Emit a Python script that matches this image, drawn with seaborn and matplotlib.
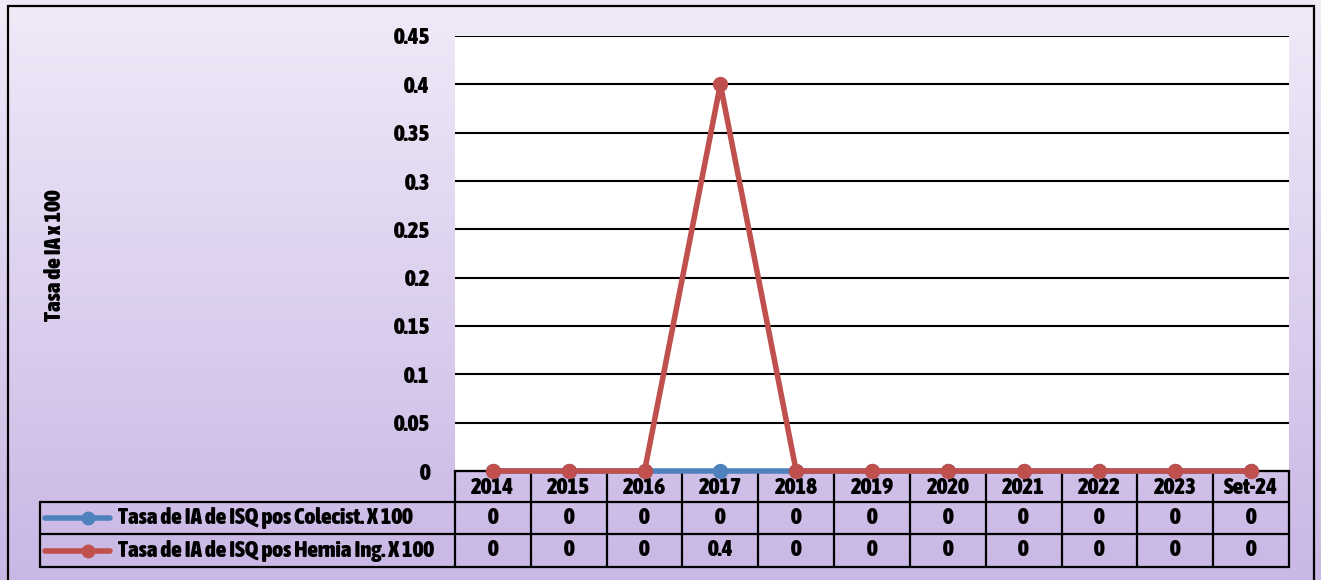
import numpy as np
import pandas as pd
import matplotlib
matplotlib.use("Agg")
import matplotlib.pyplot as plt
import matplotlib.transforms as mtransforms
from matplotlib import font_manager
from matplotlib.colors import LinearSegmentedColormap
import seaborn as sns

# Data
years = ["2014", "2015", "2016", "2017", "2018", "2019", "2020", "2021", "2022", "2023", "Set-24"]
colecist = [0, 0, 0, 0, 0, 0, 0, 0, 0, 0, 0]
hernia = [0, 0, 0, 0.4, 0, 0, 0, 0, 0, 0, 0]
series_names = ["Tasa de IA de ISQ pos Colecist. X 100", "Tasa de IA de ISQ pos Hernia Ing. X 100"]
y_ticks = [0, 0.05, 0.1, 0.15, 0.2, 0.25, 0.3, 0.35, 0.4, 0.45]
y_label = "Tasa de IA x 100"

sns.set_theme(style="white")


def is_bold(w):
    if isinstance(w, (int, float)):
        return w >= 600
    return str(w).lower() in ("bold", "heavy", "black", "semibold", "demibold", "extra bold")


# prefer a narrow bold sans if one is installed; keep the file path to use directly
narrow_path = None
for f in sorted(font_manager.fontManager.ttflist, key=lambda f: f.name):
    cond = ("Narrow" in f.name or "Condensed" in f.name
            or str(f.stretch).lower() in ("condensed", "semi-condensed")
            or (isinstance(f.stretch, int) and f.stretch < 500))
    if cond and is_bold(f.weight) and "italic" not in str(f.style).lower() and "Mono" not in f.name \
            and "Serif" not in f.name:
        narrow_path = f.fname
        break

plt.rcParams["font.family"] = ["Liberation Sans", "DejaVu Sans"]
plt.rcParams["text.color"] = "black"
plt.rcParams["ytick.color"] = "black"
plt.rcParams["xtick.color"] = "black"

if narrow_path:
    base_font = font_manager.FontProperties(fname=narrow_path)
else:
    base_font = font_manager.FontProperties(family=["Liberation Sans", "DejaVu Sans"], weight="bold")

W, H = 1321, 580
fig = plt.figure(figsize=(W / 100, H / 100), dpi=100)
renderer = fig.canvas.get_renderer()

# size text so the longest row header fills its cell
probe = fig.text(0, 0, series_names[1], fontproperties=base_font.copy())
probe.set_fontsize(12)
wpx = probe.get_window_extent(renderer).width
probe.remove()
fs = 12 * 329.0 / wpx
fs = min(fs, 16.5)


def fp(size):
    p = base_font.copy()
    p.set_size(size)
    return p


# gradient background
bg = fig.add_axes([0, 0, 1, 1], zorder=-10)
grad = np.linspace(0, 1, 256).reshape(-1, 1)
cmap = LinearSegmentedColormap.from_list("lav", ["#f0eaf8", "#c9b7e5"])
bg.imshow(grad, aspect="auto", cmap=cmap, extent=[0, 1, 0, 1], origin="upper")
bg.set_xlim(0, 1)
bg.set_ylim(0, 1)
bg.axis("off")
# outer frame
bg.add_patch(plt.Rectangle((8 / W, -0.02), (1314 - 8) / W, (H - 6) / H + 0.02,
                           fill=False, edgecolor="black", linewidth=1.6,
                           transform=bg.transAxes, clip_on=False))

px_l, px_r, px_t, px_b = 455, 1289, 36, 471
ax = fig.add_axes([px_l / W, (H - px_b) / H, (px_r - px_l) / W, (px_b - px_t) / H])
ax.set_facecolor("white")

x = np.arange(len(years))
df = pd.DataFrame({"x": np.concatenate([x, x]),
                   "y": colecist + hernia,
                   "serie": [series_names[0]] * len(x) + [series_names[1]] * len(x)})
palette = {series_names[0]: "#4f81bd", series_names[1]: "#c0504d"}
sns.lineplot(data=df, x="x", y="y", hue="serie", palette=palette, marker="o",
             markersize=11, markeredgewidth=0, linewidth=4, legend=False, ax=ax,
             clip_on=False, zorder=5)

ax.set_xlim(-0.5, len(years) - 0.5)
ax.set_ylim(0, 0.45)
ax.set_yticks(y_ticks)
ax.set_yticklabels([f"{v:g}" for v in y_ticks], fontproperties=fp(fs), color="black")
ax.tick_params(axis="y", length=0, pad=18)
ax.set_xticks([])
ax.set_xlabel("")
ax.set_ylabel("")
for v in y_ticks[1:]:
    ax.axhline(v, color="black", linewidth=1.5, zorder=1)
for s in ["top", "right", "left"]:
    ax.spines[s].set_visible(False)
ax.spines["bottom"].set_color("black")
ax.spines["bottom"].set_linewidth(1.5)

fig.text(55 / W, 1 - 255 / H, y_label, rotation=90, ha="center", va="center",
         fontproperties=fp(fs), color="black")

# data table under the axis
plot_h = px_b - px_t


def yfrac(py):
    return (px_b - py) / plot_h


row_edges = [471, 502, 534, 567]
trans = mtransforms.blended_transform_factory(ax.transData, ax.transAxes)
unit = (px_r - px_l) / len(years)
left_data = -0.5 + (40 - px_l) / unit
lw = 1.6
kw = dict(transform=trans, clip_on=False, color="black", linewidth=lw)

# horizontal lines
ax.plot([-0.5, len(years) - 0.5], [yfrac(row_edges[0])] * 2, **kw)
for r in row_edges[1:]:
    ax.plot([left_data, len(years) - 0.5], [yfrac(r)] * 2, **kw)
# vertical lines
for i in range(len(years) + 1):
    ax.plot([i - 0.5, i - 0.5], [yfrac(row_edges[0]), yfrac(row_edges[3])], **kw)
ax.plot([left_data, left_data], [yfrac(row_edges[1]), yfrac(row_edges[3])], **kw)

txt = dict(transform=trans, ha="center", va="center", fontproperties=fp(fs),
           color="black", clip_on=False)
hy = yfrac((row_edges[0] + row_edges[1]) / 2 + 2)
for i, yr in enumerate(years):
    ax.text(i, hy, yr, **txt)
for r, vals in enumerate([colecist, hernia]):
    cy = yfrac((row_edges[r + 1] + row_edges[r + 2]) / 2)
    for i, v in enumerate(vals):
        ax.text(i, cy, f"{v:g}", **txt)
    # legend key inside the row header cell
    xs = [left_data + (45 - 40) / unit, left_data + (110 - 40) / unit]
    col = palette[series_names[r]]
    ax.plot(xs, [cy, cy], transform=trans, clip_on=False, color=col, linewidth=4)
    ax.plot([left_data + (88 - 40) / unit], [cy], transform=trans, clip_on=False,
            color=col, marker="o", markersize=10, markeredgewidth=0)
    ax.text(left_data + (118 - 40) / unit, cy, series_names[r], transform=trans,
            ha="left", va="center", fontproperties=fp(fs), color="black",
            clip_on=False)

fig.savefig("out.png", dpi=100)
